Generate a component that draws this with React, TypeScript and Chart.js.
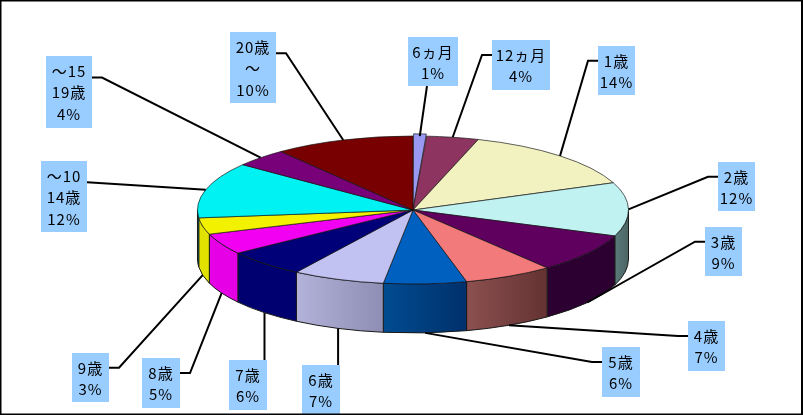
import React, { useEffect, useRef } from "react";
import Chart from "chart.js/auto";

const categories = ["6ヵ月", "12ヵ月", "1歳", "2歳", "3歳", "4歳", "5歳", "6歳", "7歳", "8歳", "9歳", "～10\n14歳", "～15\n19歳", "20歳\n～"];
const percentLabels = ["1%", "4%", "14%", "12%", "9%", "7%", "6%", "7%", "6%", "5%", "3%", "12%", "4%", "10%"];
const values = [1.0, 3.9, 14.1, 11.7, 8.6, 6.7, 6.2, 6.9, 6.0, 4.6, 3.6, 12.2, 4.0, 10.5];

const topColors = ["#9999F2", "#8E3460", "#F2F2C0", "#C0F2F2", "#5F005F", "#F27A7A", "#0060C0", "#C1C1F2", "#000078", "#F200F2", "#F2F200", "#00F2F2", "#780078", "#780000"];
const sideLeft = ["#7070B0", "#602040", "#A0A080", "#5A7A7A", "#2C0030", "#8C5050", "#004C90", "#B2B2DA", "#000070", "#E600E6", "#E2E200", "#00D8D8", "#500050", "#500000"];
const sideRight = ["#7070B0", "#602040", "#A0A080", "#4C6464", "#2C0030", "#643232", "#00306C", "#8E8EB4", "#000070", "#E600E6", "#E2E200", "#00D8D8", "#500050", "#500000"];

// Label box rectangles [left, top, right, bottom] and which side the leader leaves from.
const boxes = [
  [408, 37, 458, 86], [492, 40, 550, 90], [598, 46, 635, 95], [718, 162, 755, 211],
  [705, 227, 742, 276], [688, 321, 725, 371], [602, 347, 640, 397], [302, 365, 340, 415],
  [229, 360, 267, 410], [142, 358, 180, 408], [72, 353, 109, 402], [41, 161, 87, 232],
  [46, 56, 92, 128], [230, 32, 276, 103],
];
const leaderSides = ["bottom", "left", "left", "left", "left", "left", "left", "top", "top", "right", "right", "right", "right", "right"];

const CX = 413, CY = 210, RX = 215.5, RY = 74, DEPTH = 49;
const SQUASH = RY / RX;

const pieStyle = {
  id: "pieStyle",
  beforeDraw(chart: any) {
    const { ctx, width, height } = chart;
    ctx.save();
    ctx.fillStyle = "#FFFFFF";
    ctx.fillRect(0, 0, width, height);
    ctx.restore();
  },
  beforeDatasetDraw(chart: any) {
    const { ctx } = chart;
    const arcs = chart.getDatasetMeta(0).data;
    // walls of the slices facing the viewer
    arcs.forEach((arc: any, i: number) => {
      const a1 = Math.max(arc.startAngle, 0);
      const a2 = Math.min(arc.endAngle, Math.PI);
      if (a1 >= a2) return;
      const x1 = arc.x + RX * Math.cos(a1);
      const x2 = arc.x + RX * Math.cos(a2);
      const g = ctx.createLinearGradient(Math.min(x1, x2), 0, Math.max(x1, x2), 0);
      g.addColorStop(0, sideLeft[i]);
      g.addColorStop(1, sideRight[i]);
      ctx.save();
      ctx.beginPath();
      ctx.ellipse(arc.x, arc.y, RX, RY, 0, a1, a2, false);
      ctx.ellipse(arc.x, arc.y + DEPTH, RX, RY, 0, a2, a1, true);
      ctx.closePath();
      ctx.fillStyle = g;
      ctx.fill();
      ctx.strokeStyle = "#1A1A1A";
      ctx.lineWidth = 1;
      ctx.stroke();
      ctx.restore();
    });
    ctx.save();
    ctx.translate(CX, CY);
    ctx.scale(1, SQUASH);
    ctx.translate(-CX, -CY);
  },
  afterDatasetDraw(chart: any) {
    const { ctx, width, height } = chart;
    ctx.restore();
    const arcs = chart.getDatasetMeta(0).data;
    // leader lines from the rim of each slice to its label box
    arcs.forEach((arc: any, i: number) => {
      const mid = (arc.startAngle + arc.endAngle) / 2;
      const front = Math.sin(mid) > 0;
      const ex = arc.x + RX * Math.cos(mid);
      const ey = arc.y + RY * Math.sin(mid) + (front ? DEPTH : 0);
      const [l, t, r, b] = boxes[i];
      const side = leaderSides[i];
      const mx = (l + r) / 2;
      const my = t + (b - t) * 0.3;
      ctx.save();
      ctx.strokeStyle = "#000000";
      ctx.lineWidth = 2;
      ctx.beginPath();
      if (side === "left") {
        ctx.moveTo(l, my);
        ctx.lineTo(l - 10, my);
      } else if (side === "right") {
        ctx.moveTo(r, my);
        if (i !== 11) ctx.lineTo(r + 10, my);
      } else if (side === "top") {
        ctx.moveTo(ex, t);
      } else {
        ctx.moveTo(mx - 6, b);
      }
      ctx.lineTo(ex, ey);
      ctx.stroke();
      ctx.restore();
    });
    // label boxes
    arcs.forEach((_: any, i: number) => {
      const [l, t, r, b] = boxes[i];
      ctx.save();
      ctx.fillStyle = "#99CCFF";
      ctx.fillRect(l, t, r - l, b - t);
      ctx.fillStyle = "#000000";
      ctx.font = '15px "Noto Sans CJK JP"';
      ctx.letterSpacing = "1px";
      ctx.textAlign = "center";
      ctx.textBaseline = "middle";
      const lines = [...categories[i].split("\n"), percentLabels[i]];
      lines.forEach((s, k) => ctx.fillText(s, (l + r) / 2, t + 15 + k * 21.5));
      ctx.restore();
    });
    // chart frame
    ctx.save();
    ctx.strokeStyle = "#000000";
    ctx.lineWidth = 2;
    ctx.strokeRect(0.5, 0.5, width - 1.5, height - 1);
    ctx.restore();
  },
};

export default function App() {
  const ref = useRef<HTMLCanvasElement>(null);
  useEffect(() => {
    const chart = new Chart(ref.current as HTMLCanvasElement, {
      type: "pie",
      data: {
        labels: categories,
        datasets: [{
          data: values,
          backgroundColor: topColors,
          borderColor: "#111111",
          borderWidth: 1,
          offset: values.map((_, i) => (i === 0 ? 13 : 0)),
          clip: false,
        } as any],
      },
      options: {
        animation: false,
        responsive: false,
        radius: RX,
        layout: { padding: { left: 23, right: 0, top: 5, bottom: 0 } },
        plugins: { legend: { display: false }, tooltip: { enabled: false } },
      } as any,
      plugins: [pieStyle],
    });
    return () => chart.destroy();
  }, []);
  return (
    <div style={{ position: "absolute", left: 0, top: 0, width: 803, height: 415 }}>
      <canvas ref={ref} width={803} height={415} style={{ display: "block" }} />
    </div>
  );
}
